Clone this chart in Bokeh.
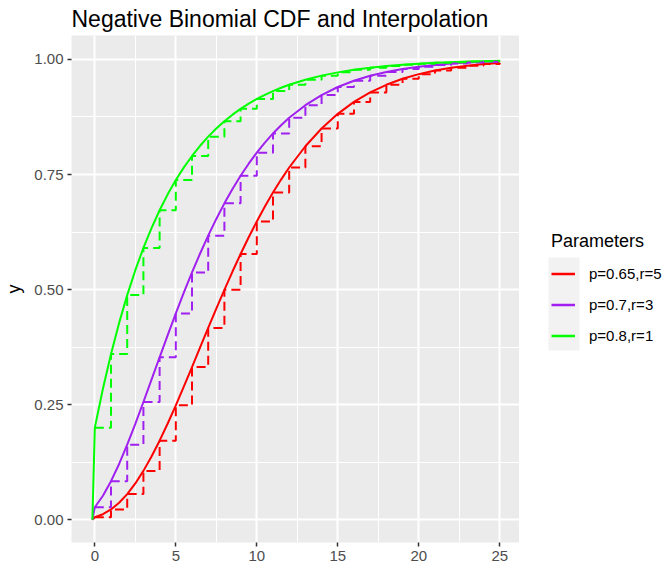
from bokeh.plotting import figure
from bokeh.layouts import row
from bokeh.models import Range1d, FixedTicker, Legend, LegendItem, NumeralTickFormatter, BoxAnnotation
from bokeh.embed import file_html
from bokeh.resources import INLINE

# ---- data ----
labels = ["p=0.65,r=5", "p=0.7,r=3", "p=0.8,r=1"]
colors = ["#FF0000", "#A020F0", "#00FF00"]

x_smooth = [-0.15, 0, 0.5, 1, 1.5, 2, 2.5, 3, 3.5, 4, 4.5, 5, 5.5, 6, 6.5, 7, 7.5, 8, 8.5,
            9, 9.5, 10, 10.5, 11, 11.5, 12, 13, 14, 15, 16, 17, 18, 19, 20, 21, 22, 23, 24, 25]
red_smooth = [0, 0.0053, 0.0120, 0.0223, 0.0368, 0.0556, 0.0788, 0.1061, 0.1372, 0.1717, 0.2090,
              0.2485, 0.2896, 0.3317, 0.3742, 0.4167, 0.4586, 0.4995, 0.5392, 0.5773, 0.6136,
              0.6481, 0.6805, 0.7108, 0.7390, 0.7652, 0.8114, 0.8500, 0.8818, 0.9077, 0.9284,
              0.9449, 0.9579, 0.9680, 0.9758, 0.9818, 0.9864, 0.9899, 0.9925]
purple_smooth = [0, 0.0270, 0.0520, 0.0837, 0.1211, 0.1631, 0.2083, 0.2557, 0.3042, 0.3529, 0.4012,
                 0.4482, 0.4937, 0.5372, 0.5784, 0.6172, 0.6535, 0.6873, 0.7185, 0.7472, 0.7735,
                 0.7975, 0.8194, 0.8392, 0.8571, 0.8732, 0.9006, 0.9226, 0.9401, 0.9538, 0.9645,
                 0.9729, 0.9793, 0.9843, 0.9881, 0.9910, 0.9933, 0.9949, 0.9962]
green_smooth = [0, 0.2000, 0.2845, 0.3600, 0.4276, 0.4880, 0.5421, 0.5904, 0.6336, 0.6723, 0.7069,
                0.7379, 0.7655, 0.7903, 0.8124, 0.8322, 0.8499, 0.8658, 0.8800, 0.8926, 0.9040,
                0.9141, 0.9232, 0.9313, 0.9385, 0.9450, 0.9560, 0.9648, 0.9719, 0.9775, 0.9820,
                0.9856, 0.9885, 0.9908, 0.9926, 0.9941, 0.9953, 0.9962, 0.9970]

x_step = list(range(0, 26))
red_step = [0.0053, 0.0223, 0.0556, 0.1061, 0.1717, 0.2485, 0.3317, 0.4167, 0.4995, 0.5773,
            0.6481, 0.7108, 0.7652, 0.8114, 0.8500, 0.8818, 0.9077, 0.9284, 0.9449, 0.9579,
            0.9680, 0.9758, 0.9818, 0.9864, 0.9899, 0.9925]
purple_step = [0.0270, 0.0837, 0.1631, 0.2557, 0.3529, 0.4482, 0.5372, 0.6172, 0.6873, 0.7472,
               0.7975, 0.8392, 0.8732, 0.9006, 0.9226, 0.9401, 0.9538, 0.9645, 0.9729, 0.9793,
               0.9843, 0.9881, 0.9910, 0.9933, 0.9949, 0.9962]
green_step = [0.2000, 0.3600, 0.4880, 0.5904, 0.6723, 0.7379, 0.7903, 0.8322, 0.8658, 0.8926,
              0.9141, 0.9313, 0.9450, 0.9560, 0.9648, 0.9719, 0.9775, 0.9820, 0.9856, 0.9885,
              0.9908, 0.9926, 0.9941, 0.9953, 0.9962, 0.9970]

x_ticks = [0, 5, 10, 15, 20, 25]
x_minor = [2.5, 7.5, 12.5, 17.5, 22.5]
y_ticks = [0, 0.25, 0.5, 0.75, 1.0]
y_minor = [0.125, 0.375, 0.625, 0.875]

FONT = "Liberation Sans"

p = figure(width=519, height=571, output_backend="svg", toolbar_location=None,
           x_range=Range1d(-1.44, 26.22), y_range=Range1d(-0.0495, 1.052),
           min_border_left=71, min_border_right=0, min_border_top=35, min_border_bottom=29)

p.background_fill_color = "#EBEBEB"
p.border_fill_color = "white"
p.outline_line_color = None

p.title.text = "Negative Binomial CDF and Interpolation"
p.title.text_font = FONT
p.title.text_font_size = "23px"
p.title.text_font_style = "normal"
p.title.text_color = "black"
p.title.align = "left"
p.title.standoff = 7

p.xaxis.ticker = FixedTicker(ticks=x_ticks, minor_ticks=x_minor)
p.yaxis.ticker = FixedTicker(ticks=y_ticks, minor_ticks=y_minor)
p.yaxis.formatter = NumeralTickFormatter(format="0.00")
for ax in (p.xaxis, p.yaxis):
    ax.axis_line_color = None
    ax.major_tick_line_color = "#333333"
    ax.major_tick_line_width = 1.5
    ax.major_tick_out = 4
    ax.major_tick_in = 0
    ax.minor_tick_line_color = None
    ax.major_label_text_color = "#4D4D4D"
    ax.major_label_text_font = FONT
    ax.major_label_text_font_size = "15px"
    ax.major_label_standoff = 4
p.yaxis.axis_label = "y"
p.yaxis.axis_label_text_font = FONT
p.yaxis.axis_label_text_font_size = "18px"
p.yaxis.axis_label_text_font_style = "normal"
p.yaxis.axis_label_text_color = "black"
p.yaxis.axis_label_standoff = 7

p.grid.grid_line_color = "white"
p.grid.grid_line_width = 2
p.grid.minor_grid_line_color = "white"
p.grid.minor_grid_line_width = 1

smooth = [red_smooth, purple_smooth, green_smooth]
steps = [red_step, purple_step, green_step]
for ys, col in zip(smooth, colors):
    p.line(x_smooth, ys, line_color=col, line_width=2)
for ys, col in zip(steps, colors):
    p.step(x_step, ys, mode="after", line_color=col, line_width=2, line_dash="9 5")

# ---- legend panel (a second figure to the right of the plot) ----
# its ranges are set so the series used only as legend keys stay out of view
lg = figure(width=146, height=571, output_backend="svg", toolbar_location=None,
            x_axis_type=None, y_axis_type=None,
            x_range=Range1d(100, 101), y_range=Range1d(100, 101),
            min_border_left=0, min_border_right=0, min_border_top=0, min_border_bottom=0)
lg.outline_line_color = None
lg.background_fill_color = "white"
lg.border_fill_color = "white"
lg.grid.visible = False

key_bg = BoxAnnotation(left=29, right=60, top=257, bottom=350,
                       left_units="canvas", right_units="canvas",
                       top_units="canvas", bottom_units="canvas",
                       fill_color="#F2F2F2", fill_alpha=1.0, line_color=None)
lg.add_layout(key_bg)

key_renderers = [lg.line(x_smooth, ys, line_color=c, line_width=2.5)
                 for ys, c in zip(smooth, colors)]
legend = Legend(items=[LegendItem(label=l, renderers=[r]) for l, r in zip(labels, key_renderers)],
                location=(32, 191), title="Parameters",
                glyph_width=24, glyph_height=31, spacing=0, padding=0, margin=0,
                label_standoff=14, label_text_font=FONT, label_text_font_size="15px",
                label_text_color="black", title_text_font=FONT, title_text_font_size="18px",
                title_text_font_style="normal", title_text_color="black", title_standoff=6,
                background_fill_alpha=0, border_line_color=None)
lg.add_layout(legend)

layout = row(p, lg, spacing=0)
open("out.html", "w").write(file_html(layout, INLINE))
